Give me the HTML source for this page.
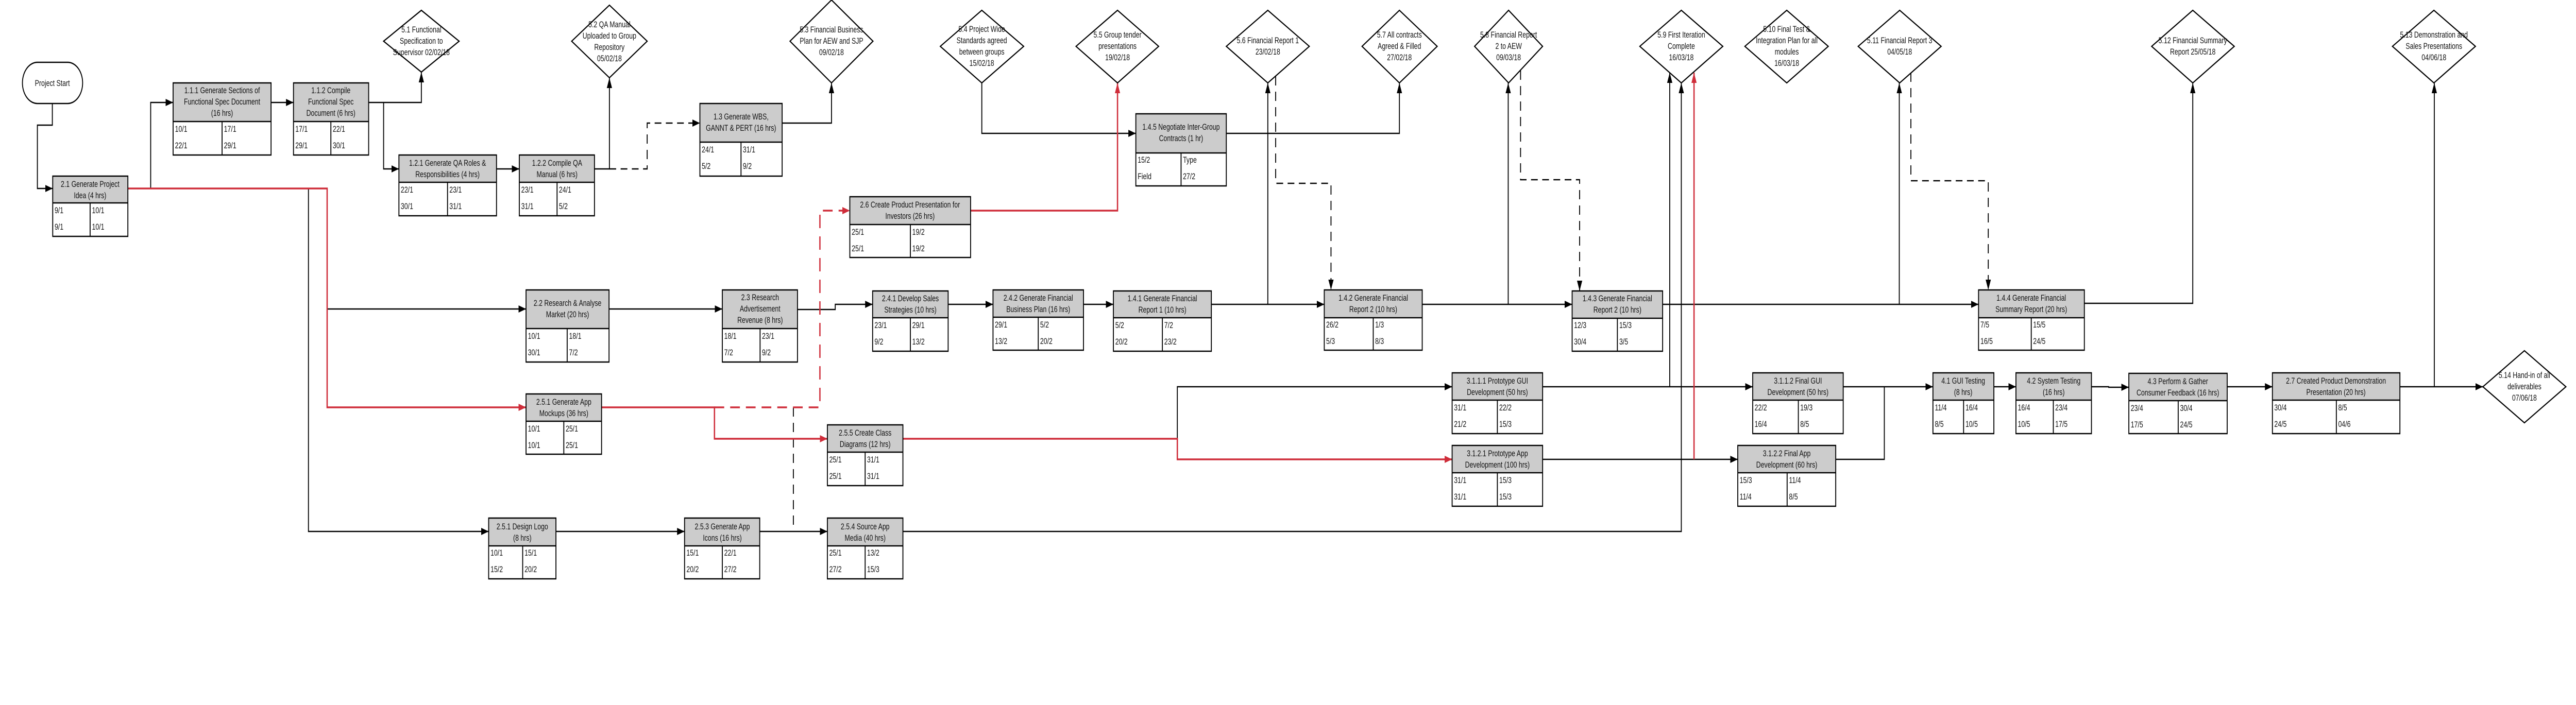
<!DOCTYPE html>
<html><head><meta charset="utf-8"><style>
html,body{margin:0;padding:0;background:#fff;width:100%;height:100%;overflow:hidden}
svg{display:block;position:absolute;left:0;top:0;width:100vw;height:100vh}
text{font-family:"Liberation Sans",Arial,sans-serif;font-size:17px;fill:#111}
.hd{fill:#cccccc;stroke:none}
.bx{fill:none;stroke:#000;stroke-width:2.5}
.ln{fill:none;stroke:#000;stroke-width:2.5}
.rd{fill:none;stroke:#cf2d3a;stroke-width:3.5}
.ds{fill:none;stroke:#000;stroke-width:2.5;stroke-dasharray:18 12}
.rds{fill:none;stroke:#cf2d3a;stroke-width:3.5;stroke-dasharray:26 16}
.dm{fill:#fff;stroke:#000;stroke-width:2.5}
</style></head><body>
<svg viewBox="0 0 6890 1369" preserveAspectRatio="none" xmlns="http://www.w3.org/2000/svg">
<defs>
<marker id="a" markerUnits="userSpaceOnUse" markerWidth="22" markerHeight="16" refX="20" refY="8" orient="auto"><path d="M0,1 L20,8 L0,15 Z" fill="#000"/></marker>
<marker id="r" markerUnits="userSpaceOnUse" markerWidth="22" markerHeight="16" refX="20" refY="8" orient="auto"><path d="M0,1 L20,8 L0,15 Z" fill="#cf2d3a"/></marker>
</defs>

<rect x="60" y="121" width="161" height="80" rx="40" ry="40" class="bx"/>
<text x="140" y="167" text-anchor="middle">Project Start</text>

<path class="ln" marker-end="url(#a)" d="M140,201 V243 H100 V366 H141"/>
<path class="ln" marker-end="url(#a)" d="M342,366 H403 V199 H463"/>
<path class="ln" marker-end="url(#a)" d="M825,366 V1032 H1307"/>
<path class="ln" marker-end="url(#a)" d="M875,600 H1407"/>
<path class="ln" marker-end="url(#a)" d="M725,199 H785"/>
<path class="ln" marker-end="url(#a)" d="M986,199 H1127 V140"/>
<path class="ln" marker-end="url(#a)" d="M1026,199 V328 H1067"/>
<path class="ln" marker-end="url(#a)" d="M1328,328 H1389"/>
<path class="ln" marker-end="url(#a)" d="M1590,328 H1630 V151"/>
<path class="ds" marker-end="url(#a)" d="M1630,328 H1731 V239 H1872"/>
<path class="ln" marker-end="url(#a)" d="M2092,239 H2224 V161"/>
<path class="ln" marker-end="url(#a)" d="M1629,600 H1932"/>
<path class="ln" marker-end="url(#a)" d="M2133,601 H2234 V591 H2334"/>
<path class="ln" marker-end="url(#a)" d="M2536,591 H2656"/>
<path class="ln" marker-end="url(#a)" d="M2898,591 H2978"/>
<path class="ln" marker-end="url(#a)" d="M3240,591 H3542"/>
<path class="ln" marker-end="url(#a)" d="M3391,591 V161"/>
<path class="ds" marker-end="url(#a)" d="M3412,148 V356 H3560 V563"/>
<path class="ln" marker-end="url(#a)" d="M3804,591 H4205"/>
<path class="ln" marker-end="url(#a)" d="M4034,591 V161"/>
<path class="ds" marker-end="url(#a)" d="M4067,137 V349 H4225 V565"/>
<path class="ln" marker-end="url(#a)" d="M4447,591 H5292"/>
<path class="ln" marker-end="url(#a)" d="M5080,591 V161"/>
<path class="ds" marker-end="url(#a)" d="M5111,141 V351 H5318 V563"/>
<path class="ln" marker-end="url(#a)" d="M5575,589 H5865 V161"/>
<path class="ds" d="M2122,791 V1021"/>
<path class="ln" marker-end="url(#a)" d="M2626,161 V259 H3038"/>
<path class="ln" marker-end="url(#a)" d="M3280,259 H3743 V161"/>
<path class="ln" marker-end="url(#a)" d="M3149,852 V751 H3884"/>
<path class="ln" marker-end="url(#a)" d="M1487,1032 H1831"/>
<path class="ln" marker-end="url(#a)" d="M2032,1032 H2213"/>
<path class="ln" marker-end="url(#a)" d="M2415,1032 H4497 V161"/>
<path class="ln" marker-end="url(#a)" d="M4126,751 H4688"/>
<path class="ln" marker-end="url(#a)" d="M4466,751 V141"/>
<path class="ln" marker-end="url(#a)" d="M4126,892 H4648"/>
<path class="ln" marker-end="url(#a)" d="M4930,751 H5170"/>
<path class="ln" d="M4910,892 H5040 V751"/>
<path class="ln" marker-end="url(#a)" d="M5333,751 H5392"/>
<path class="ln" marker-end="url(#a)" d="M5594,751 H5640 V752 H5694"/>
<path class="ln" marker-end="url(#a)" d="M5957,751 H6078"/>
<path class="ln" marker-end="url(#a)" d="M6419,751 H6641"/>
<path class="ln" marker-end="url(#a)" d="M6511,751 V161"/>

<path class="rd" marker-end="url(#r)" d="M342,366 H875 V791 H1407"/>
<path class="rd" marker-end="url(#r)" d="M1609,791 H1911 V852 H2213"/>
<path class="rds" marker-end="url(#r)" d="M1911,791 H2193 V409 H2273"/>
<path class="rd" marker-end="url(#r)" d="M2596,409 H2989 V161"/>
<path class="rd" marker-end="url(#r)" d="M2415,852 H3149 V892 H3884"/>
<path class="rd" marker-end="url(#r)" d="M4531,892 V141"/>

<g>
<polygon class="dm" points="1026,80 1127,20 1228,80 1127,140"/>
<text text-anchor="middle"><tspan x="1127" y="63">5.1 Functional</tspan><tspan x="1127" y="85">Specification to</tspan><tspan x="1127" y="107">Supervisor 02/02/18</tspan></text>
<polygon class="dm" points="1529,80 1630,10 1731,80 1630,151"/>
<text text-anchor="middle"><tspan x="1630" y="53">5.2 QA Manual</tspan><tspan x="1630" y="75">Uploaded to Group</tspan><tspan x="1630" y="97">Repository</tspan><tspan x="1630" y="119">05/02/18</tspan></text>
<polygon class="dm" points="2113,80 2224,0 2335,80 2224,161"/>
<text text-anchor="middle"><tspan x="2224" y="63">5.3 Financial Business</tspan><tspan x="2224" y="85">Plan for AEW and SJP</tspan><tspan x="2224" y="107">09/02/18</tspan></text>
<polygon class="dm" points="2515,90 2626,20 2738,90 2626,161"/>
<text text-anchor="middle"><tspan x="2626" y="62">5.4 Project Wide</tspan><tspan x="2626" y="84">Standards agreed</tspan><tspan x="2626" y="106">between groups</tspan><tspan x="2626" y="128">15/02/18</tspan></text>
<polygon class="dm" points="2878,90 2989,20 3099,90 2989,161"/>
<text text-anchor="middle"><tspan x="2989" y="73">5.5 Group tender</tspan><tspan x="2989" y="95">presentations</tspan><tspan x="2989" y="117">19/02/18</tspan></text>
<polygon class="dm" points="3280,90 3391,20 3502,90 3391,161"/>
<text text-anchor="middle"><tspan x="3391" y="84">5.6 Financial Report 1</tspan><tspan x="3391" y="106">23/02/18</tspan></text>
<polygon class="dm" points="3643,90 3743,20 3844,90 3743,161"/>
<text text-anchor="middle"><tspan x="3743" y="73">5.7 All contracts</tspan><tspan x="3743" y="95">Agreed &amp; Filled</tspan><tspan x="3743" y="117">27/02/18</tspan></text>
<polygon class="dm" points="3944,90 4035,20 4126,90 4035,161"/>
<text text-anchor="middle"><tspan x="4035" y="73">5.8 Financial Report</tspan><tspan x="4035" y="95">2 to AEW</tspan><tspan x="4035" y="117">09/03/18</tspan></text>
<polygon class="dm" points="4386,90 4497,20 4608,90 4497,161"/>
<text text-anchor="middle"><tspan x="4497" y="73">5.9 First Iteration</tspan><tspan x="4497" y="95">Complete</tspan><tspan x="4497" y="117">16/03/18</tspan></text>
<polygon class="dm" points="4667,90 4779,20 4890,90 4779,161"/>
<text text-anchor="middle"><tspan x="4779" y="62">5.10 Final Test &amp;</tspan><tspan x="4779" y="84">Integration Plan for all</tspan><tspan x="4779" y="106">modules</tspan><tspan x="4779" y="128">16/03/18</tspan></text>
<polygon class="dm" points="4970,90 5081,20 5192,90 5081,161"/>
<text text-anchor="middle"><tspan x="5081" y="84">5.11 Financial Report 3</tspan><tspan x="5081" y="106">04/05/18</tspan></text>
<polygon class="dm" points="5755,90 5865,20 5976,90 5865,161"/>
<text text-anchor="middle"><tspan x="5865" y="84">5.12 Financial Summary</tspan><tspan x="5865" y="106">Report 25/05/18</tspan></text>
<polygon class="dm" points="6399,90 6510,20 6621,90 6510,161"/>
<text text-anchor="middle"><tspan x="6510" y="73">5.13 Demonstration and</tspan><tspan x="6510" y="95">Sales Presentations</tspan><tspan x="6510" y="117">04/06/18</tspan></text>
<polygon class="dm" points="6641,751 6752,681 6863,751 6752,821"/>
<text text-anchor="middle"><tspan x="6752" y="734">5.14 Hand-in of all</tspan><tspan x="6752" y="756">deliverables</tspan><tspan x="6752" y="778">07/06/18</tspan></text>
</g>

<g><rect class="hd" x="141" y="342" width="201" height="52"/><rect class="bx" x="141" y="342" width="201" height="117"/><path class="ln" d="M141,394 H342 M241,394 V459"/>
<text text-anchor="middle"><tspan x="241" y="363">2.1 Generate Project</tspan><tspan x="241" y="385">Idea (4 hrs)</tspan></text>
<text x="146" y="414">9/1</text><text x="246" y="414">10/1</text><text x="146" y="446">9/1</text><text x="246" y="446">10/1</text></g>

<g><rect class="hd" x="463" y="161" width="262" height="75"/><rect class="bx" x="463" y="161" width="262" height="140"/><path class="ln" d="M463,236 H725 M594,236 V301"/>
<text text-anchor="middle"><tspan x="594" y="181">1.1.1 Generate Sections of</tspan><tspan x="594" y="203">Functional Spec Document</tspan><tspan x="594" y="225">(16 hrs)</tspan></text>
<text x="468" y="256">10/1</text><text x="599" y="256">17/1</text><text x="468" y="288">22/1</text><text x="599" y="288">29/1</text></g>

<g><rect class="hd" x="785" y="161" width="201" height="75"/><rect class="bx" x="785" y="161" width="201" height="140"/><path class="ln" d="M785,236 H986 M885,236 V301"/>
<text text-anchor="middle"><tspan x="885" y="181">1.1.2 Compile</tspan><tspan x="885" y="203">Functional Spec</tspan><tspan x="885" y="225">Document (6 hrs)</tspan></text>
<text x="790" y="256">17/1</text><text x="890" y="256">22/1</text><text x="790" y="288">29/1</text><text x="890" y="288">30/1</text></g>

<g><rect class="hd" x="1067" y="301" width="261" height="53"/><rect class="bx" x="1067" y="301" width="261" height="118"/><path class="ln" d="M1067,354 H1328 M1197,354 V419"/>
<text text-anchor="middle"><tspan x="1197" y="322">1.2.1 Generate QA Roles &amp;</tspan><tspan x="1197" y="344">Responsibilities (4 hrs)</tspan></text>
<text x="1072" y="374">22/1</text><text x="1202" y="374">23/1</text><text x="1072" y="406">30/1</text><text x="1202" y="406">31/1</text></g>

<g><rect class="hd" x="1389" y="301" width="201" height="53"/><rect class="bx" x="1389" y="301" width="201" height="118"/><path class="ln" d="M1389,354 H1590 M1490,354 V419"/>
<text text-anchor="middle"><tspan x="1490" y="322">1.2.2 Compile QA</tspan><tspan x="1490" y="344">Manual (6 hrs)</tspan></text>
<text x="1394" y="374">23/1</text><text x="1495" y="374">24/1</text><text x="1394" y="406">31/1</text><text x="1495" y="406">5/2</text></g>

<g><rect class="hd" x="1872" y="201" width="220" height="75"/><rect class="bx" x="1872" y="201" width="220" height="141"/><path class="ln" d="M1872,276 H2092 M1982,276 V342"/>
<text text-anchor="middle"><tspan x="1982" y="232">1.3 Generate WBS,</tspan><tspan x="1982" y="254">GANNT &amp; PERT (16 hrs)</tspan></text>
<text x="1877" y="296">24/1</text><text x="1987" y="296">31/1</text><text x="1877" y="328">5/2</text><text x="1987" y="328">9/2</text></g>

<g><rect class="hd" x="1407" y="563" width="222" height="75"/><rect class="bx" x="1407" y="563" width="222" height="140"/><path class="ln" d="M1407,638 H1629 M1517,638 V703"/>
<text text-anchor="middle"><tspan x="1518" y="594">2.2 Research &amp; Analyse</tspan><tspan x="1518" y="616">Market (20 hrs)</tspan></text>
<text x="1412" y="658">10/1</text><text x="1522" y="658">18/1</text><text x="1412" y="690">30/1</text><text x="1522" y="690">7/2</text></g>

<g><rect class="hd" x="1932" y="563" width="201" height="75"/><rect class="bx" x="1932" y="563" width="201" height="140"/><path class="ln" d="M1932,638 H2133 M2033,638 V703"/>
<text text-anchor="middle"><tspan x="2033" y="583">2.3 Research</tspan><tspan x="2033" y="605">Advertisement</tspan><tspan x="2033" y="627">Revenue (8 hrs)</tspan></text>
<text x="1937" y="658">18/1</text><text x="2038" y="658">23/1</text><text x="1937" y="690">7/2</text><text x="2038" y="690">9/2</text></g>

<g><rect class="hd" x="1407" y="765" width="202" height="53"/><rect class="bx" x="1407" y="765" width="202" height="117"/><path class="ln" d="M1407,818 H1609 M1508,818 V882"/>
<text text-anchor="middle"><tspan x="1508" y="786">2.5.1 Generate App</tspan><tspan x="1508" y="808">Mockups (36 hrs)</tspan></text>
<text x="1412" y="838">10/1</text><text x="1513" y="838">25/1</text><text x="1412" y="870">10/1</text><text x="1513" y="870">25/1</text></g>

<g><rect class="hd" x="1307" y="1006" width="180" height="54"/><rect class="bx" x="1307" y="1006" width="180" height="118"/><path class="ln" d="M1307,1060 H1487 M1398,1060 V1124"/>
<text text-anchor="middle"><tspan x="1397" y="1028">2.5.1 Design Logo</tspan><tspan x="1397" y="1050">(8 hrs)</tspan></text>
<text x="1312" y="1079">10/1</text><text x="1403" y="1079">15/1</text><text x="1312" y="1111">15/2</text><text x="1403" y="1111">20/2</text></g>

<g><rect class="hd" x="1831" y="1006" width="201" height="54"/><rect class="bx" x="1831" y="1006" width="201" height="118"/><path class="ln" d="M1831,1060 H2032 M1932,1060 V1124"/>
<text text-anchor="middle"><tspan x="1932" y="1028">2.5.3 Generate App</tspan><tspan x="1932" y="1050">Icons (16 hrs)</tspan></text>
<text x="1836" y="1079">15/1</text><text x="1937" y="1079">22/1</text><text x="1836" y="1111">20/2</text><text x="1937" y="1111">27/2</text></g>

<g><rect class="hd" x="2213" y="1006" width="202" height="54"/><rect class="bx" x="2213" y="1006" width="202" height="118"/><path class="ln" d="M2213,1060 H2415 M2314,1060 V1124"/>
<text text-anchor="middle"><tspan x="2314" y="1028">2.5.4 Source App</tspan><tspan x="2314" y="1050">Media (40 hrs)</tspan></text>
<text x="2218" y="1079">25/1</text><text x="2319" y="1079">13/2</text><text x="2218" y="1111">27/2</text><text x="2319" y="1111">15/3</text></g>

<g><rect class="hd" x="2213" y="825" width="202" height="53"/><rect class="bx" x="2213" y="825" width="202" height="118"/><path class="ln" d="M2213,878 H2415 M2314,878 V943"/>
<text text-anchor="middle"><tspan x="2314" y="846">2.5.5 Create Class</tspan><tspan x="2314" y="868">Diagrams (12 hrs)</tspan></text>
<text x="2218" y="898">25/1</text><text x="2319" y="898">31/1</text><text x="2218" y="930">25/1</text><text x="2319" y="930">31/1</text></g>

<g><rect class="hd" x="2273" y="382" width="323" height="54"/><rect class="bx" x="2273" y="382" width="323" height="118"/><path class="ln" d="M2273,436 H2596 M2435,436 V500"/>
<text text-anchor="middle"><tspan x="2434" y="403">2.6 Create Product Presentation for</tspan><tspan x="2434" y="425">Investors (26 hrs)</tspan></text>
<text x="2278" y="456">25/1</text><text x="2440" y="456">19/2</text><text x="2278" y="488">25/1</text><text x="2440" y="488">19/2</text></g>

<g><rect class="hd" x="2334" y="565" width="202" height="52"/><rect class="bx" x="2334" y="565" width="202" height="117"/><path class="ln" d="M2334,617 H2536 M2435,617 V682"/>
<text text-anchor="middle"><tspan x="2435" y="585">2.4.1 Develop Sales</tspan><tspan x="2435" y="607">Strategies (10 hrs)</tspan></text>
<text x="2339" y="637">23/1</text><text x="2440" y="637">29/1</text><text x="2339" y="669">9/2</text><text x="2440" y="669">13/2</text></g>

<g><rect class="hd" x="2656" y="563" width="242" height="53"/><rect class="bx" x="2656" y="563" width="242" height="117"/><path class="ln" d="M2656,616 H2898 M2777,616 V680"/>
<text text-anchor="middle"><tspan x="2777" y="584">2.4.2 Generate Financial</tspan><tspan x="2777" y="606">Business Plan (16 hrs)</tspan></text>
<text x="2661" y="636">29/1</text><text x="2782" y="636">5/2</text><text x="2661" y="668">13/2</text><text x="2782" y="668">20/2</text></g>

<g><rect class="hd" x="2978" y="565" width="262" height="52"/><rect class="bx" x="2978" y="565" width="262" height="117"/><path class="ln" d="M2978,617 H3240 M3109,617 V682"/>
<text text-anchor="middle"><tspan x="3109" y="585">1.4.1 Generate Financial</tspan><tspan x="3109" y="607">Report 1 (10 hrs)</tspan></text>
<text x="2983" y="637">5/2</text><text x="3114" y="637">7/2</text><text x="2983" y="669">20/2</text><text x="3114" y="669">23/2</text></g>

<g><rect class="hd" x="3038" y="221" width="242" height="76"/><rect class="bx" x="3038" y="221" width="242" height="140"/><path class="ln" d="M3038,297 H3280 M3159,297 V361"/>
<text text-anchor="middle"><tspan x="3159" y="252">1.4.5 Negotiate Inter-Group</tspan><tspan x="3159" y="274">Contracts (1 hr)</tspan></text>
<text x="3043" y="316">15/2</text><text x="3164" y="316">Type</text><text x="3043" y="348">Field</text><text x="3164" y="348">27/2</text></g>

<g><rect class="hd" x="3542" y="563" width="262" height="54"/><rect class="bx" x="3542" y="563" width="262" height="117"/><path class="ln" d="M3542,617 H3804 M3673,617 V680"/>
<text text-anchor="middle"><tspan x="3673" y="584">1.4.2 Generate Financial</tspan><tspan x="3673" y="606">Report 2 (10 hrs)</tspan></text>
<text x="3547" y="636">26/2</text><text x="3678" y="636">1/3</text><text x="3547" y="668">5/3</text><text x="3678" y="668">8/3</text></g>

<g><rect class="hd" x="4205" y="565" width="242" height="53"/><rect class="bx" x="4205" y="565" width="242" height="117"/><path class="ln" d="M4205,618 H4447 M4326,618 V682"/>
<text text-anchor="middle"><tspan x="4326" y="585">1.4.3 Generate Financial</tspan><tspan x="4326" y="607">Report 2 (10 hrs)</tspan></text>
<text x="4210" y="637">12/3</text><text x="4331" y="637">15/3</text><text x="4210" y="669">30/4</text><text x="4331" y="669">3/5</text></g>

<g><rect class="hd" x="3884" y="724" width="242" height="53"/><rect class="bx" x="3884" y="724" width="242" height="118"/><path class="ln" d="M3884,777 H4126 M4005,777 V842"/>
<text text-anchor="middle"><tspan x="4005" y="745">3.1.1.1 Prototype GUI</tspan><tspan x="4005" y="767">Development (50 hrs)</tspan></text>
<text x="3889" y="797">31/1</text><text x="4010" y="797">22/2</text><text x="3889" y="829">21/2</text><text x="4010" y="829">15/3</text></g>

<g><rect class="hd" x="3884" y="865" width="242" height="53"/><rect class="bx" x="3884" y="865" width="242" height="118"/><path class="ln" d="M3884,918 H4126 M4005,918 V983"/>
<text text-anchor="middle"><tspan x="4005" y="886">3.1.2.1 Prototype App</tspan><tspan x="4005" y="908">Development (100 hrs)</tspan></text>
<text x="3889" y="938">31/1</text><text x="4010" y="938">15/3</text><text x="3889" y="970">31/1</text><text x="4010" y="970">15/3</text></g>

<g><rect class="hd" x="5292" y="563" width="283" height="54"/><rect class="bx" x="5292" y="563" width="283" height="117"/><path class="ln" d="M5292,617 H5575 M5433,617 V680"/>
<text text-anchor="middle"><tspan x="5433" y="584">1.4.4 Generate Financial</tspan><tspan x="5433" y="606">Summary Report (20 hrs)</tspan></text>
<text x="5297" y="636">7/5</text><text x="5438" y="636">15/5</text><text x="5297" y="668">16/5</text><text x="5438" y="668">24/5</text></g>

<g><rect class="hd" x="4688" y="724" width="242" height="53"/><rect class="bx" x="4688" y="724" width="242" height="118"/><path class="ln" d="M4688,777 H4930 M4810,777 V842"/>
<text text-anchor="middle"><tspan x="4809" y="745">3.1.1.2 Final GUI</tspan><tspan x="4809" y="767">Development (50 hrs)</tspan></text>
<text x="4693" y="797">22/2</text><text x="4815" y="797">19/3</text><text x="4693" y="829">16/4</text><text x="4815" y="829">8/5</text></g>

<g><rect class="hd" x="4648" y="865" width="262" height="53"/><rect class="bx" x="4648" y="865" width="262" height="118"/><path class="ln" d="M4648,918 H4910 M4780,918 V983"/>
<text text-anchor="middle"><tspan x="4779" y="886">3.1.2.2 Final App</tspan><tspan x="4779" y="908">Development (60 hrs)</tspan></text>
<text x="4653" y="938">15/3</text><text x="4785" y="938">11/4</text><text x="4653" y="970">11/4</text><text x="4785" y="970">8/5</text></g>

<g><rect class="hd" x="5170" y="724" width="163" height="53"/><rect class="bx" x="5170" y="724" width="163" height="118"/><path class="ln" d="M5170,777 H5333 M5252,777 V842"/>
<text text-anchor="middle"><tspan x="5251" y="745">4.1 GUI Testing</tspan><tspan x="5251" y="767">(8 hrs)</tspan></text>
<text x="5175" y="797">11/4</text><text x="5257" y="797">16/4</text><text x="5175" y="829">8/5</text><text x="5257" y="829">10/5</text></g>

<g><rect class="hd" x="5392" y="724" width="202" height="53"/><rect class="bx" x="5392" y="724" width="202" height="118"/><path class="ln" d="M5392,777 H5594 M5492,777 V842"/>
<text text-anchor="middle"><tspan x="5493" y="745">4.2 System Testing</tspan><tspan x="5493" y="767">(16 hrs)</tspan></text>
<text x="5397" y="797">16/4</text><text x="5497" y="797">23/4</text><text x="5397" y="829">10/5</text><text x="5497" y="829">17/5</text></g>

<g><rect class="hd" x="5694" y="725" width="263" height="53"/><rect class="bx" x="5694" y="725" width="263" height="117"/><path class="ln" d="M5694,778 H5957 M5826,778 V842"/>
<text text-anchor="middle"><tspan x="5825" y="746">4.3 Perform &amp; Gather</tspan><tspan x="5825" y="768">Consumer Feedback (16 hrs)</tspan></text>
<text x="5699" y="798">23/4</text><text x="5831" y="798">30/4</text><text x="5699" y="830">17/5</text><text x="5831" y="830">24/5</text></g>

<g><rect class="hd" x="6078" y="724" width="341" height="53"/><rect class="bx" x="6078" y="724" width="341" height="118"/><path class="ln" d="M6078,777 H6419 M6249,777 V842"/>
<text text-anchor="middle"><tspan x="6248" y="745">2.7 Created Product Demonstration</tspan><tspan x="6248" y="767">Presentation (20 hrs)</tspan></text>
<text x="6083" y="797">30/4</text><text x="6254" y="797">8/5</text><text x="6083" y="829">24/5</text><text x="6254" y="829">04/6</text></g>

</svg>
</body></html>
